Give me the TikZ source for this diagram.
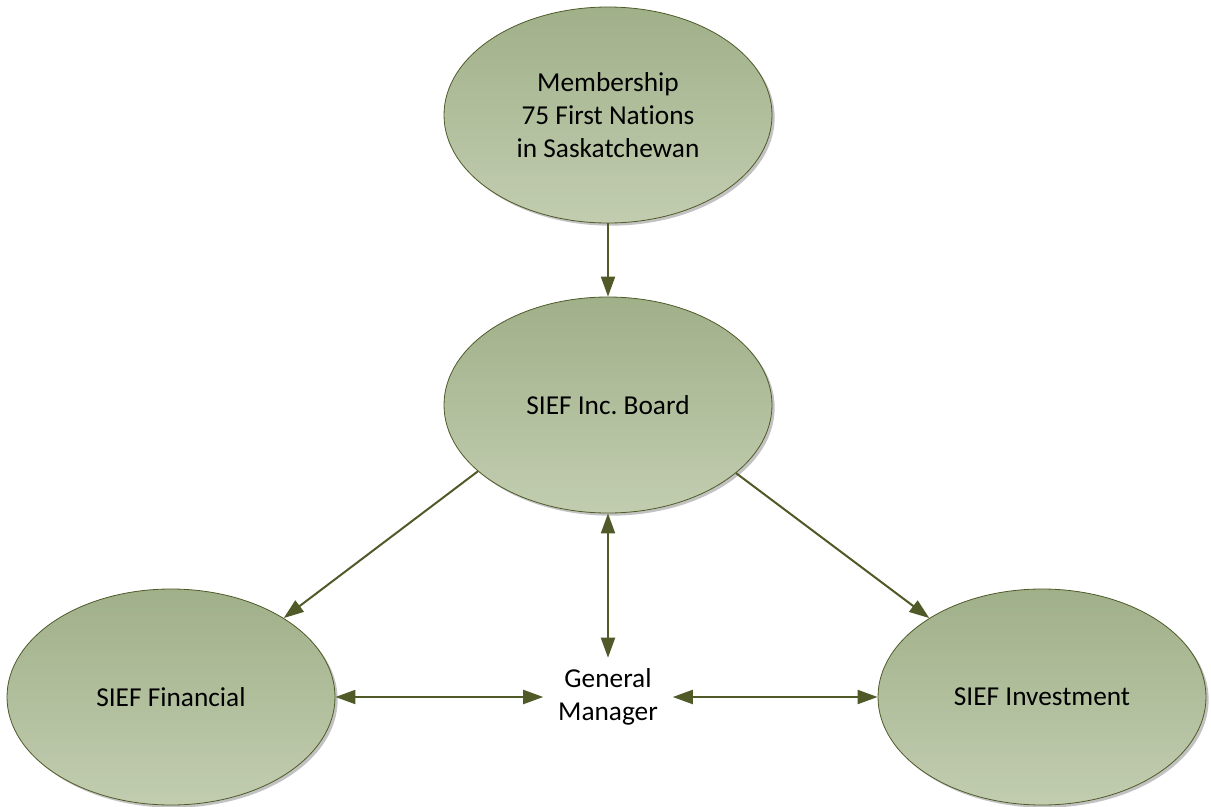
\documentclass[tikz,border=0pt]{standalone}
\usepackage{fontspec}
\setmainfont[Ligatures=NoCommon]{Carlito}
\frenchspacing
\usetikzlibrary{arrows.meta,shapes.geometric,shadows}
\definecolor{olive}{HTML}{4F5A28}
\definecolor{elltop}{HTML}{A0B089}
\definecolor{ellbot}{HTML}{C2CDB0}
\begin{document}
\begin{tikzpicture}[x=0.75pt,y=-0.75pt,
  blob/.style={ellipse, draw=olive, line width=0.6pt, top color=elltop, bottom color=ellbot,
    minimum width=246pt, minimum height=162pt, inner sep=0pt, align=center,
    font=\fontsize{20.5pt}{24.75pt}\selectfont,
    drop shadow={shadow xshift=2pt, shadow yshift=-2pt, fill=black!40, opacity=0.6}},
  plain/.style={minimum width=96.75pt, minimum height=58.5pt, inner sep=0pt, align=center,
    font=\fontsize{20.5pt}{24.75pt}\selectfont},
  conn/.style={draw=olive, line width=1.5pt, -{Triangle[length=15pt,width=10.5pt]}},
  dconn/.style={draw=olive, line width=1.5pt, {Triangle[length=15pt,width=10.5pt]}-{Triangle[length=15pt,width=10.5pt]}}]
\useasboundingbox (0,0) rectangle (1211,807);
\node[blob] (mem) at (608,115) {Membership\\75 First Nations\\in Saskatchewan};
\node[blob] (board) at (608,405) {SIEF Inc. Board};
\node[blob] (fin) at (171,697) {SIEF Financial};
\node[blob] (inv) at (1042,697) {SIEF Investment};
\node[plain] (gm) at (608,697) {General\\Manager};
\draw[conn] (mem.south) -- (board.north);
\draw[conn] (board.207) -- (fin.35);
\draw[conn] (board.332) -- (inv.145);
\draw[dconn] (board.south) -- (gm.north);
\draw[dconn] (fin.east) -- (gm.west);
\draw[dconn] (gm.east) -- (inv.west);
\end{tikzpicture}
\end{document}
